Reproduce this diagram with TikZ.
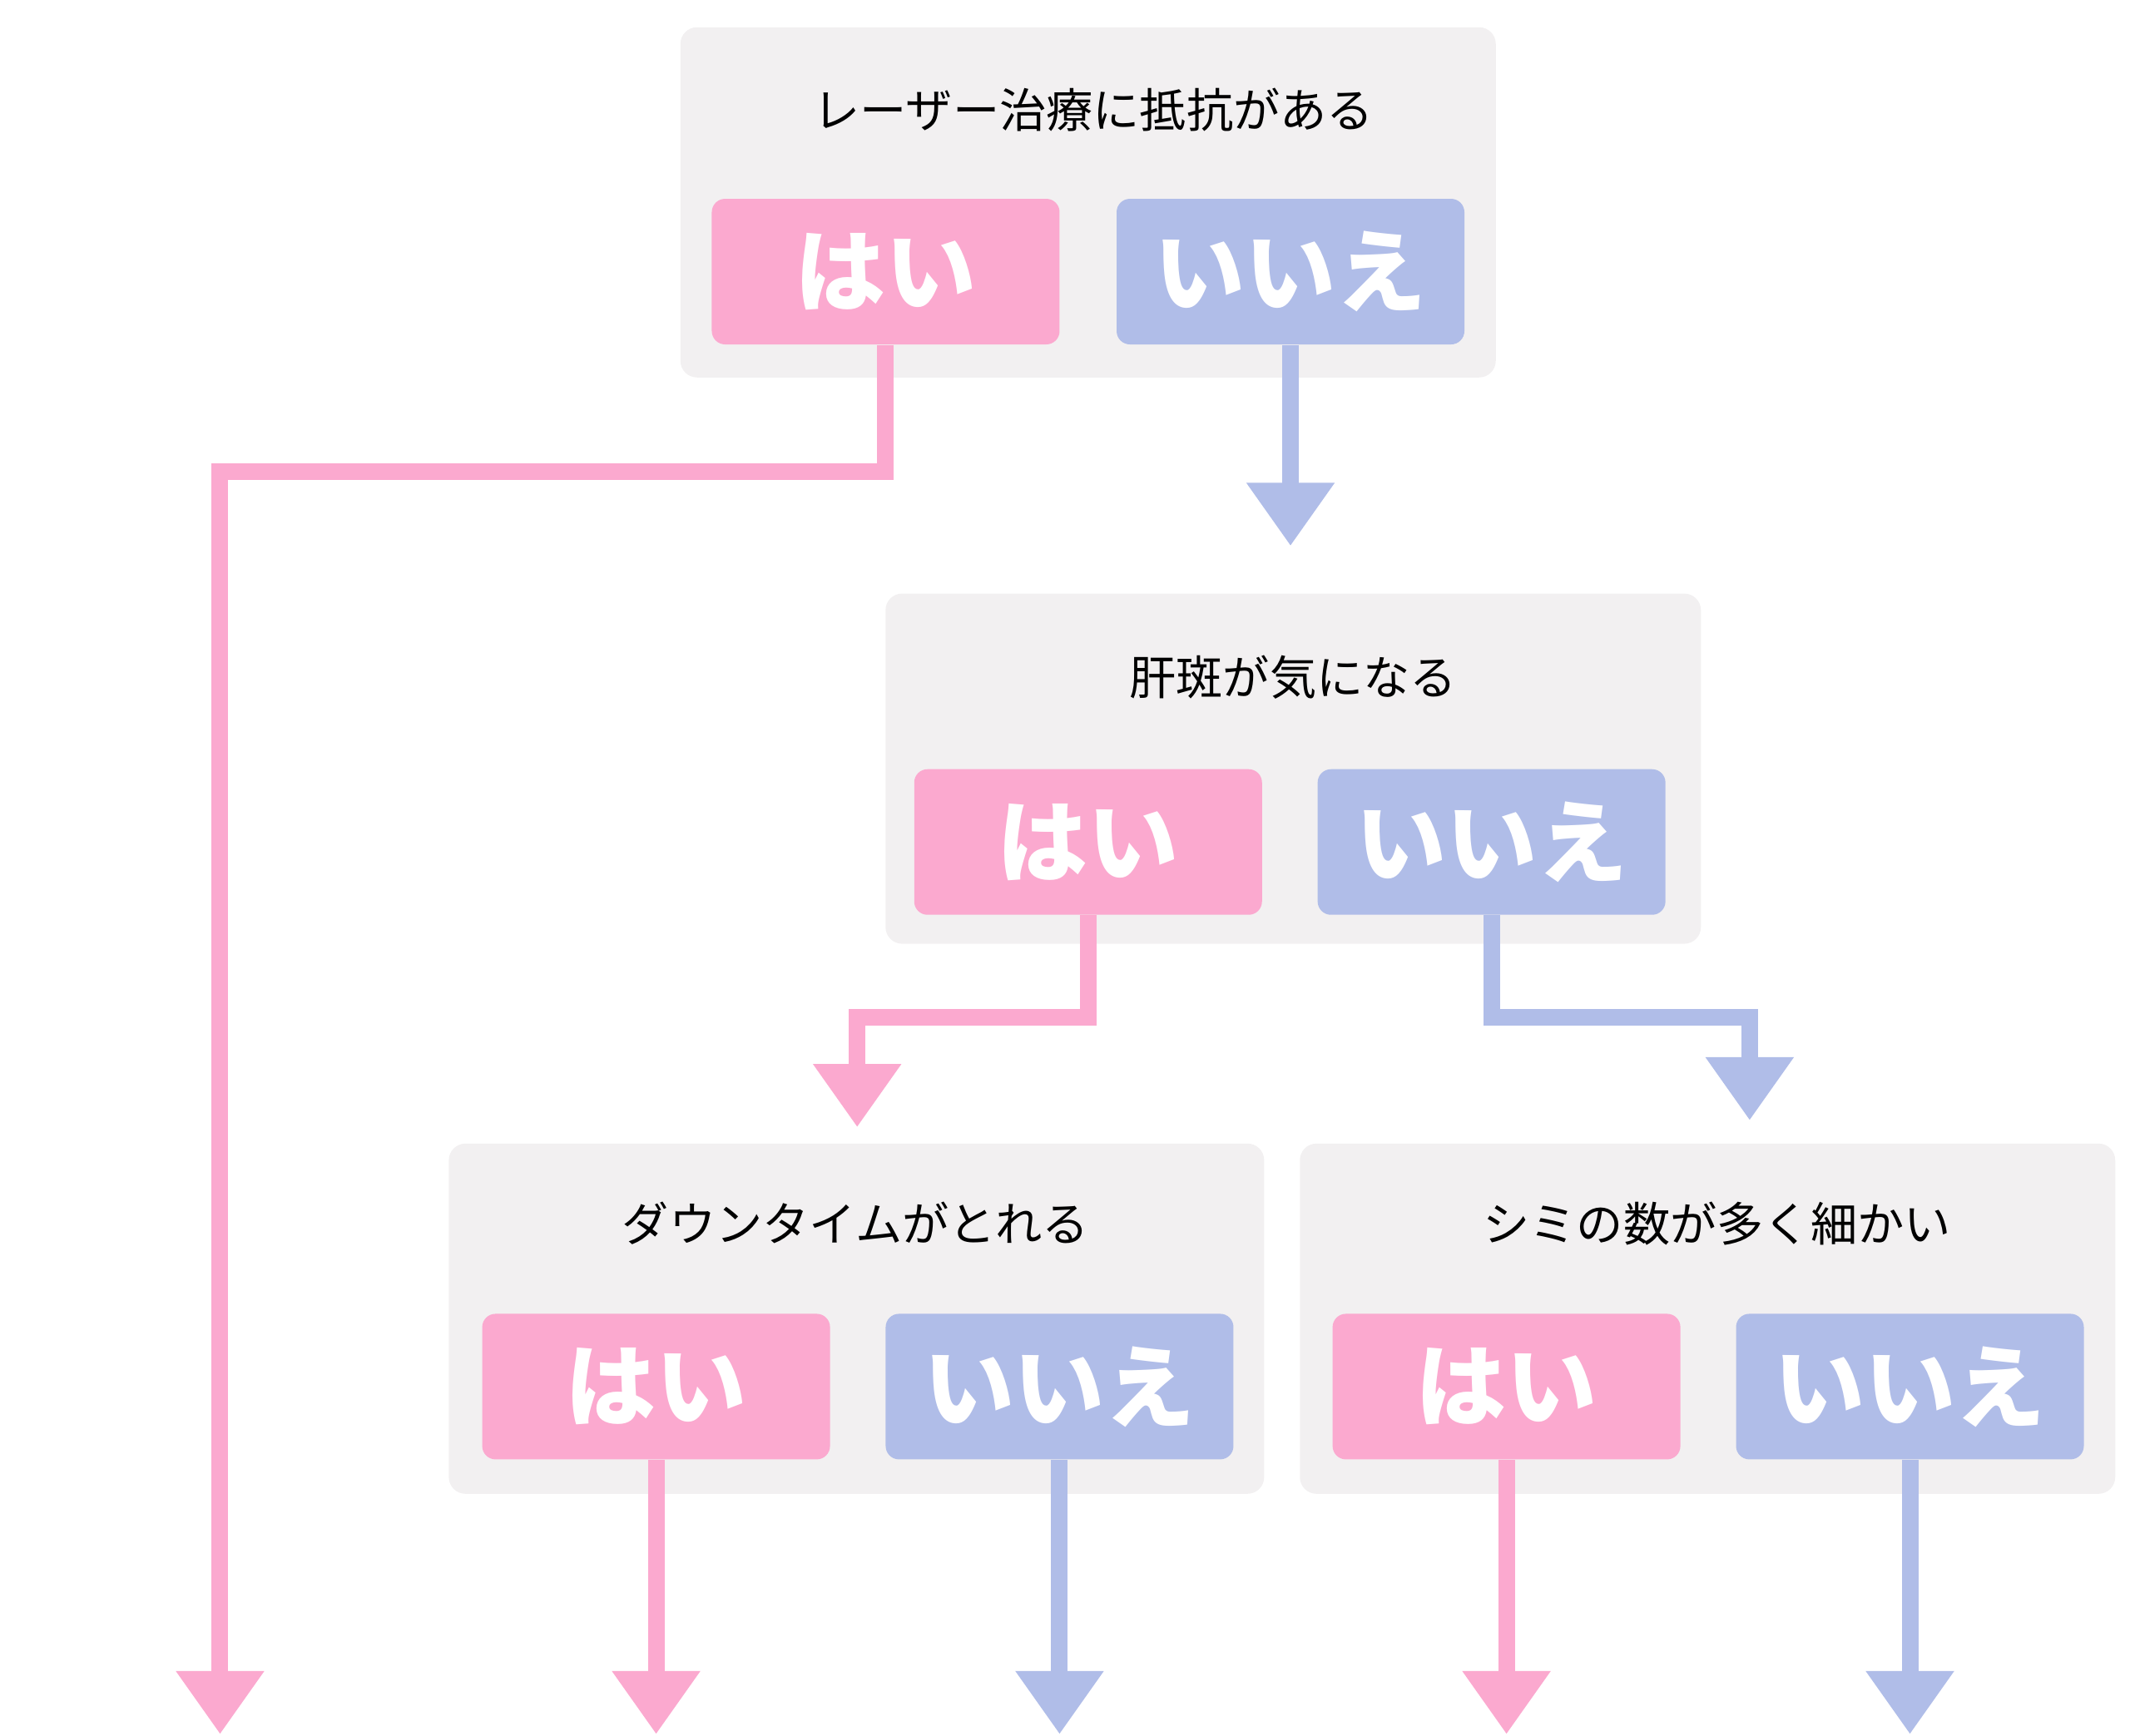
\documentclass[tikz,border=0pt]{standalone}
\usepackage{fontspec}
\setmainfont{Noto Sans CJK JP}
\newfontfamily\cjkbold{Noto Sans CJK JP}[BoldFont=*]
\usetikzlibrary{arrows.meta,positioning}
\definecolor{boxgray}{HTML}{F2F0F1}
\definecolor{yespink}{HTML}{FBA9CF}
\definecolor{noblue}{HTML}{B0BDE8}
\tikzset{%
      qbox/.style = { fill=boxgray, rounded corners=0.2cm, minimum width=9.8cm, minimum height=4.21cm, inner sep=0pt },
     qtext/.style = { font=\fontsize{16}{16}\selectfont, anchor=base },
      yes/.style  = { fill=yespink, rounded corners=0.16cm, minimum width=4.18cm, minimum height=1.75cm,
                      text=white, font=\fontsize{31}{31}\selectfont\bfseries, inner sep=0pt },
       no/.style  = { yes, fill=noblue },
    parrow/.style = { yespink, line width=0.2cm, -{Triangle[width=1.01cm,length=0.76cm]} },
    barrow/.style = { parrow, noblue }
}
\begin{document}
\begin{tikzpicture}[x=0.01633cm,y=-0.01633cm]
\useasboundingbox (0,0) rectangle (1568,1278);
% question boxes
\node[qbox] (box1) at (801,149) {};
\node[qbox] (box2) at (952,566) {};
\node[qbox] (box3) at (630.5,971) {};
\node[qbox] (box4) at (1257,971) {};
\node[qtext] (q1) at (805,94) {レーザー治療に抵抗がある};
\node[qtext] (q2) at (952,512) {肝斑が気になる};
\node[qtext] (q3) at (630,914) {ダウンタイムがとれる};
\node[qtext] (q4) at (1264,914) {シミの数が多く細かい};
% answer buttons
\node[yes] (hai1) at (652,200) {はい};
\node[no]  (iie1) at (950,200) {いいえ};
\node[yes] (hai2) at (801,620) {はい};
\node[no]  (iie2) at (1098,620) {いいえ};
\node[yes] (hai3) at (483,1021) {はい};
\node[no]  (iie3) at (780,1021) {いいえ};
\node[yes] (hai4) at (1109,1021) {はい};
\node[no]  (iie4) at (1406,1021) {いいえ};
% arrow ends
\coordinate (end1) at (162,1277);
\coordinate (end2) at (950,402);
\coordinate (end3) at (631,830);
\coordinate (end4) at (1288,825);
% connectors
\draw[parrow] (hai1.south) -- (hai1.south |- 0,347) -| (end1);
\draw[barrow] (iie1.south) -- (end2);
\draw[parrow] (hai2.south) -- (hai2.south |- 0,749) -| (end3);
\draw[barrow] (iie2.south) -- (iie2.south |- 0,749) -| (end4);
\draw[parrow] (hai3.south) -- (hai3.south |- 0,1277);
\draw[barrow] (iie3.south) -- (iie3.south |- 0,1277);
\draw[parrow] (hai4.south) -- (hai4.south |- 0,1277);
\draw[barrow] (iie4.south) -- (iie4.south |- 0,1277);
\end{tikzpicture}
\end{document}
